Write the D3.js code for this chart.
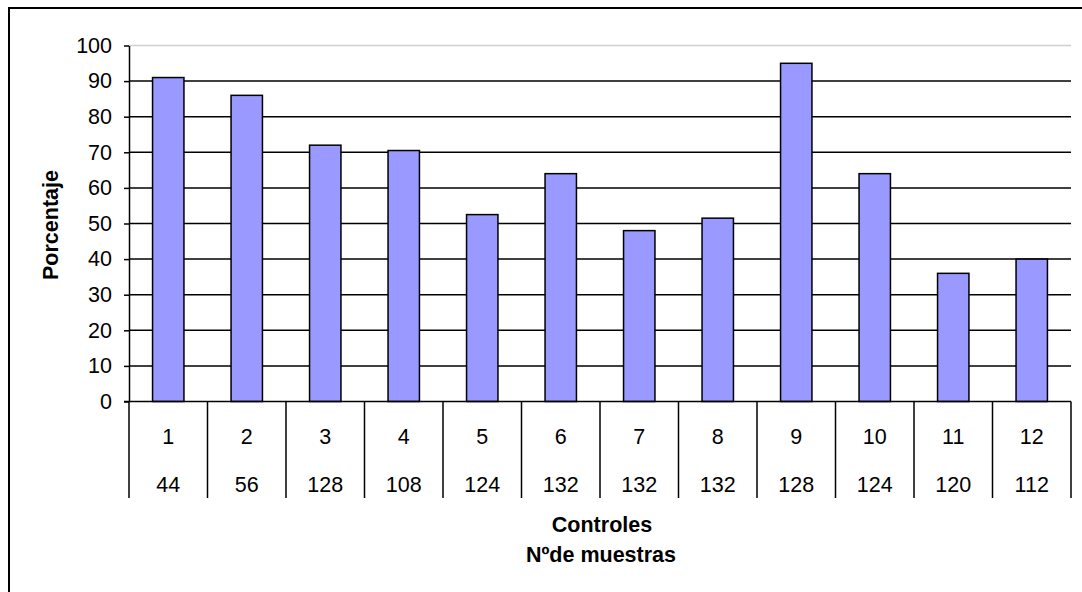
<!DOCTYPE html>
<html>
<head>
<meta charset="utf-8">
<script src="https://cdn.jsdelivr.net/npm/d3@7"></script>
<style>
  html, body { margin: 0; padding: 0; background: #fff; }
  svg { display: block; font-family: "Liberation Sans", Arial, sans-serif; }
</style>
</head>
<body>
<svg id="chart" width="1082" height="592"></svg>
<script>
// Control number, sample count per control, and percentage per control
const controles = ["1", "2", "3", "4", "5", "6", "7", "8", "9", "10", "11", "12"];
const muestras = ["44", "56", "128", "108", "124", "132", "132", "132", "128", "124", "120", "112"];
const porcentaje = [91, 86, 72, 70.5, 52.5, 64, 48, 51.5, 95, 64, 36, 40];
const yTicks = [0, 10, 20, 30, 40, 50, 60, 70, 80, 90, 100];

const svg = d3.select("#chart");
const W = 1082, H = 592;
const plot = { left: 129, right: 1071, top: 45.5, bottom: 401.5 };
const FS = 21.5;

// Outer chart frame (only top and left edges fall inside the view)
svg.append("rect")
  .attr("x", 9).attr("y", 8)
  .attr("width", W + 20).attr("height", H + 20)
  .attr("fill", "#fff")
  .attr("stroke", "#000").attr("stroke-width", 2);

const x = d3.scaleBand()
  .domain(d3.range(controles.length))
  .range([plot.left, plot.right])
  .paddingInner(0.6)
  .paddingOuter(0.3);

const y = d3.scaleLinear().domain([0, 100]).range([plot.bottom, plot.top]);

// Horizontal gridlines
svg.append("g")
  .selectAll("line")
  .data(yTicks.filter(v => v > 0))
  .join("line")
  .attr("x1", plot.left).attr("x2", plot.right)
  .attr("y1", d => y(d)).attr("y2", d => y(d))
  .attr("stroke", d => d === 100 ? "#d0d0d0" : "#000")
  .attr("stroke-width", 1.5);

// Bars
svg.append("g")
  .selectAll("rect")
  .data(porcentaje)
  .join("rect")
  .attr("x", (d, i) => x(i))
  .attr("y", d => y(d))
  .attr("width", x.bandwidth())
  .attr("height", d => y(0) - y(d))
  .attr("fill", "#9999ff")
  .attr("stroke", "#000")
  .attr("stroke-width", 1.5);

// Y axis
const yAxis = svg.append("g")
  .attr("transform", `translate(${plot.left},0)`)
  .call(d3.axisLeft(y).tickValues(yTicks).tickSize(5).tickPadding(12).tickSizeOuter(0));
yAxis.select(".domain").attr("stroke", "#000").attr("stroke-width", 1.5);
yAxis.selectAll(".tick line").attr("stroke", "#000").attr("stroke-width", 1.5);
yAxis.selectAll(".tick text")
  .attr("font-size", FS)
  .attr("font-family", "Liberation Sans, Arial, sans-serif")
  .attr("fill", "#000");

// X axis baseline
svg.append("line")
  .attr("x1", plot.left - 5).attr("x2", plot.right)
  .attr("y1", y(0)).attr("y2", y(0))
  .attr("stroke", "#000").attr("stroke-width", 1.5);

// Category separators for the two-level axis
const step = x.step();
const bounds = d3.range(controles.length + 1).map(i =>
  i < controles.length ? x(i) - step * x.paddingInner() / 2 : x(i - 1) + x.bandwidth() + step * x.paddingInner() / 2);
svg.append("g")
  .selectAll("line")
  .data(bounds)
  .join("line")
  .attr("x1", d => d).attr("x2", d => d)
  .attr("y1", y(0)).attr("y2", 498)
  .attr("stroke", "#000").attr("stroke-width", 1.5);

const cx = i => x(i) + x.bandwidth() / 2;

svg.append("g")
  .selectAll("text")
  .data(controles)
  .join("text")
  .attr("x", (d, i) => cx(i))
  .attr("y", 437)
  .attr("text-anchor", "middle")
  .attr("dominant-baseline", "central")
  .attr("font-size", FS)
  .text(d => d);

svg.append("g")
  .selectAll("text")
  .data(muestras)
  .join("text")
  .attr("x", (d, i) => cx(i))
  .attr("y", 485)
  .attr("text-anchor", "middle")
  .attr("dominant-baseline", "central")
  .attr("font-size", FS)
  .text(d => d);

// Axis titles
svg.append("text")
  .attr("x", 602).attr("y", 525)
  .attr("text-anchor", "middle")
  .attr("dominant-baseline", "central")
  .attr("font-size", FS).attr("font-weight", "bold")
  .text("Controles");

svg.append("text")
  .attr("x", 601).attr("y", 555)
  .attr("text-anchor", "middle")
  .attr("dominant-baseline", "central")
  .attr("font-size", FS).attr("font-weight", "bold")
  .text("Nºde muestras");

svg.append("text")
  .attr("transform", "translate(51,225) rotate(-90)")
  .attr("text-anchor", "middle")
  .attr("dominant-baseline", "central")
  .attr("font-size", FS).attr("font-weight", "bold")
  .text("Porcentaje");
</script>
</body>
</html>
